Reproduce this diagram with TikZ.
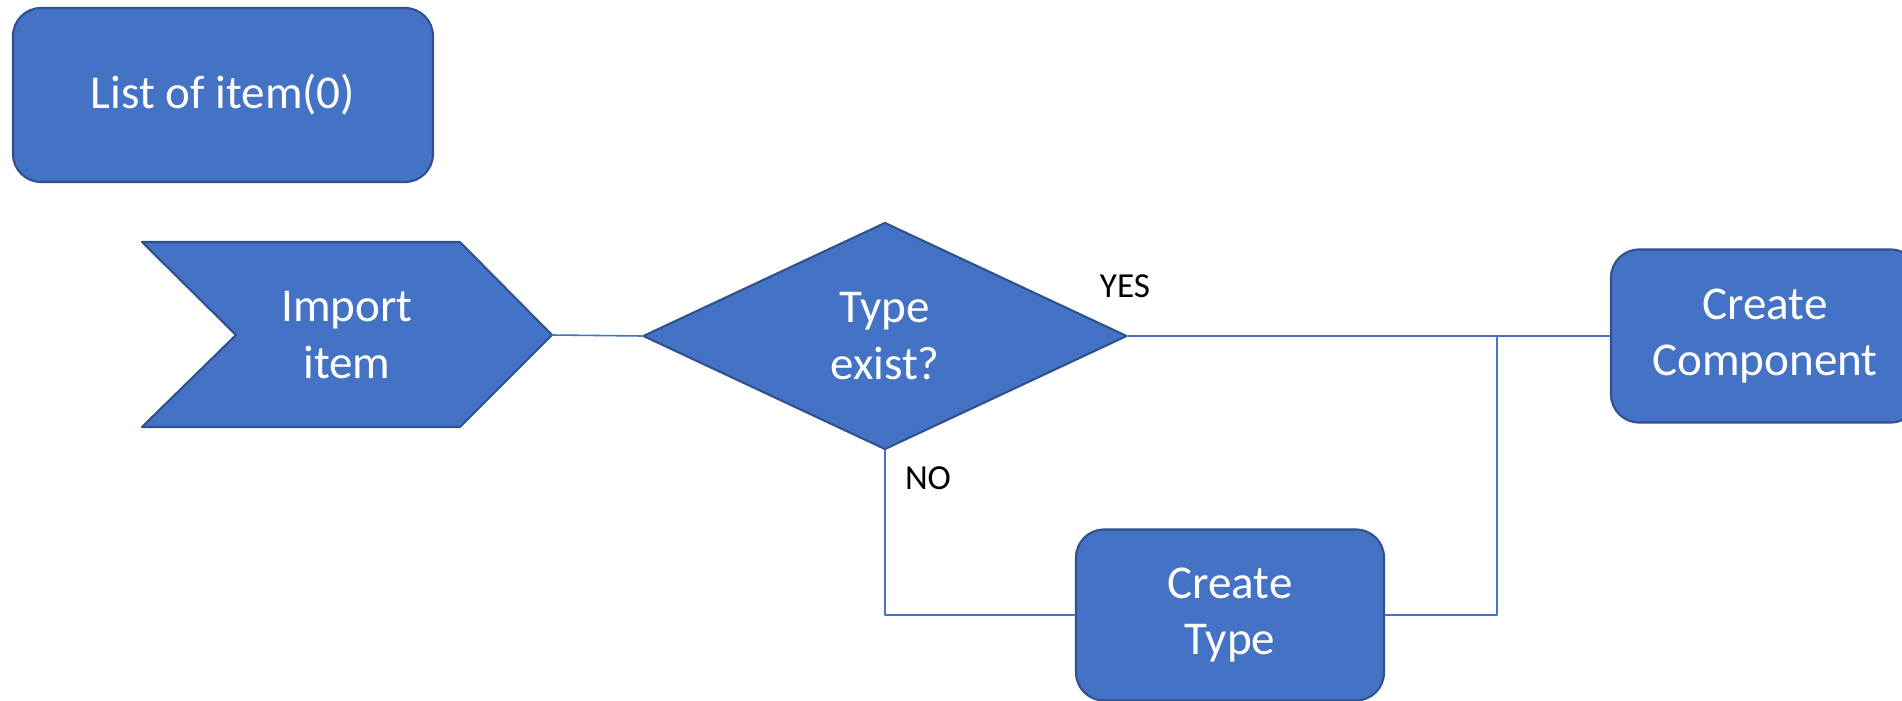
\documentclass[tikz,border=0pt]{standalone}
\usepackage{fontspec}
\setmainfont{Carlito}
\usepackage{xcolor}
\usepackage{tikz}
\usetikzlibrary{shapes.geometric}
\definecolor{boxblue}{HTML}{4472C4}
\definecolor{edgeblue}{HTML}{2F528F}
\tikzset{
  every picture/.style={line cap=round,line join=round},
  box/.style={draw=edgeblue, line width=0.6pt, fill=boxblue, text=white, align=center,
    font=\fontsize{13.4}{16.2}\selectfont, inner sep=0pt},
  roundbox/.style={box, rectangle, rounded corners=0.28cm},
  decide/.style={box, diamond, minimum width=4.84cm, minimum height=2.27cm},
  chevtext/.style={text=white, align=center, font=\fontsize{13.4}{16.2}\selectfont, inner sep=0pt},
  link/.style={draw=boxblue, line width=0.45pt},
  tag/.style={font=\fontsize{10}{12}\selectfont, inner sep=0pt},
}

\begin{document}
\begin{tikzpicture}[x=0.1mm, y=-0.1mm]
    \useasboundingbox (0,0) rectangle (1902,701);
    % 一覧
    \node[roundbox, minimum width=4.2cm, minimum height=1.74cm] (list) at (223,95) {List of item(0)};
    % 取り込み(シェブロン)
    \filldraw[draw=edgeblue, fill=boxblue, line width=0.6pt]
      (142,242) -- (460,242) -- (552,335) -- (460,427) -- (142,427) -- (236,335) -- cycle;
    \node[chevtext] (import) at (347,335) {Import\\item};
    \coordinate (imptip) at (552,335);
    % 判定
    \node[decide] (cond) at (885,336) {Type\\exist?};
    % 処理
    \node[roundbox, minimum width=3.08cm, minimum height=1.73cm] (comp) at (1765,336) {Create\\Component};
    \node[roundbox, minimum width=3.08cm, minimum height=1.71cm] (ctype) at (1230,615) {Create\\Type};
    \coordinate (merge) at (1497,336);
    % 接続線
    \draw[link] (imptip) -- (cond.west);
    \draw[link] (cond.east) -- (comp.west);
    \draw[link] (cond.south) |- (ctype.west);
    \draw[link] (ctype.east) -| (merge);
    % 分岐ラベル
    \node[tag] (yes) at (1125,286) {YES};
    \node[tag] (no) at (928,478) {NO};
\end{tikzpicture}
\end{document}
